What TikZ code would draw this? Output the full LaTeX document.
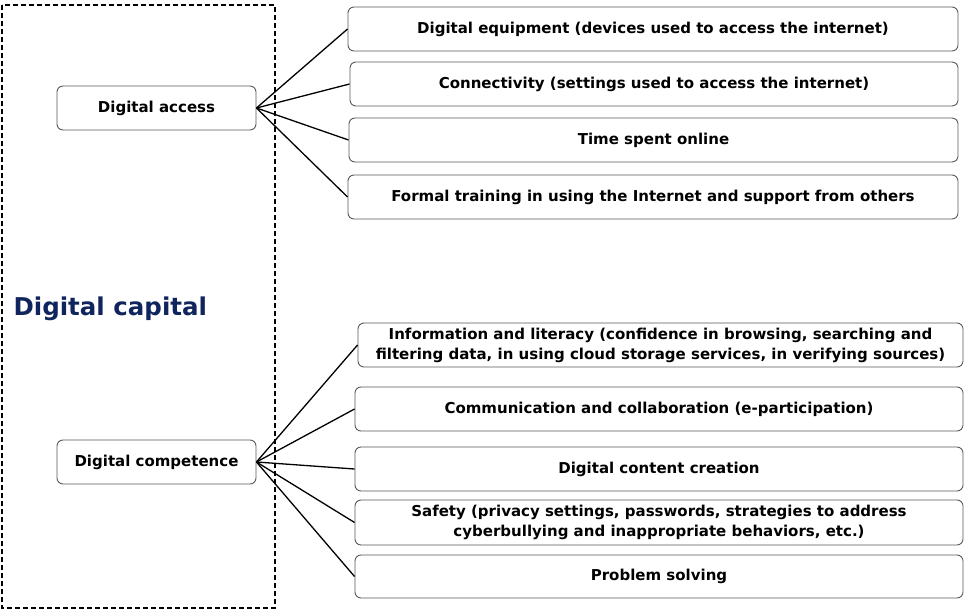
\documentclass[tikz,border=0pt]{standalone}
\usepackage{fontspec}
\setmainfont{DejaVu Sans}
\usepackage{tikz}
\usetikzlibrary{positioning}
\definecolor{capitalblue}{RGB}{16,37,94}
\tikzset{
	itembox/.style={draw=black!65, line width=0.9pt, rounded corners=6pt, minimum height=44pt, inner sep=0pt, align=center, font=\fontsize{15}{20}\selectfont\bfseries},
	link/.style={line width=1.3pt}
}
\begin{document}
\begin{tikzpicture}[x=1pt, y=-1pt]
			\useasboundingbox (0, 0) rectangle (974, 612);
			\draw [dash pattern=on 5pt off 3pt, line width=1.3pt] (2, 5) rectangle (275, 608);
			\node at (10, 309) [anchor=west, text=capitalblue, font=\fontsize{24.5}{29}\selectfont\bfseries] (capital) {Digital capital};
			\node at (156.5, 108) [itembox, minimum width=199pt] (access) {Digital access};
			\node at (156.5, 462) [itembox, minimum width=199pt] (competence) {Digital competence};
			\node at (653, 29) [itembox, minimum width=610pt] (equipment) {Digital equipment (devices used to access the internet)};
			\node at (654, 84) [itembox, minimum width=608pt] (connectivity) {Connectivity (settings used to access the internet)};
			\node at (653.5, 140) [itembox, minimum width=609pt] (time) {Time spent online};
			\node at (653, 197) [itembox, minimum width=610pt] (training) {Formal training in using the Internet and support from others};
			\node at (660.5, 345) [itembox, minimum width=605pt] (literacy) {Information and literacy (confidence in browsing, searching and\\filtering data, in using cloud storage services, in verifying sources)};
			\node at (659, 409) [itembox, minimum width=608pt] (communication) {Communication and collaboration (e-participation)};
			\node at (659, 469) [itembox, minimum width=608pt] (content) {Digital content creation};
			\node at (659, 522.5) [itembox, minimum width=608pt, minimum height=45pt] (safety) {Safety (privacy settings, passwords, strategies to address\\cyberbullying and inappropriate behaviors, etc.)};
			\node at (659, 576.5) [itembox, minimum width=608pt, minimum height=43pt] (problem) {Problem solving};
			\foreach \target in {equipment, connectivity, time, training}
				\draw [link] (access.east) -- (\target.west);
			\foreach \target in {literacy, communication, content, safety, problem}
				\draw [link] (competence.east) -- (\target.west);
		\end{tikzpicture}
\end{document}
